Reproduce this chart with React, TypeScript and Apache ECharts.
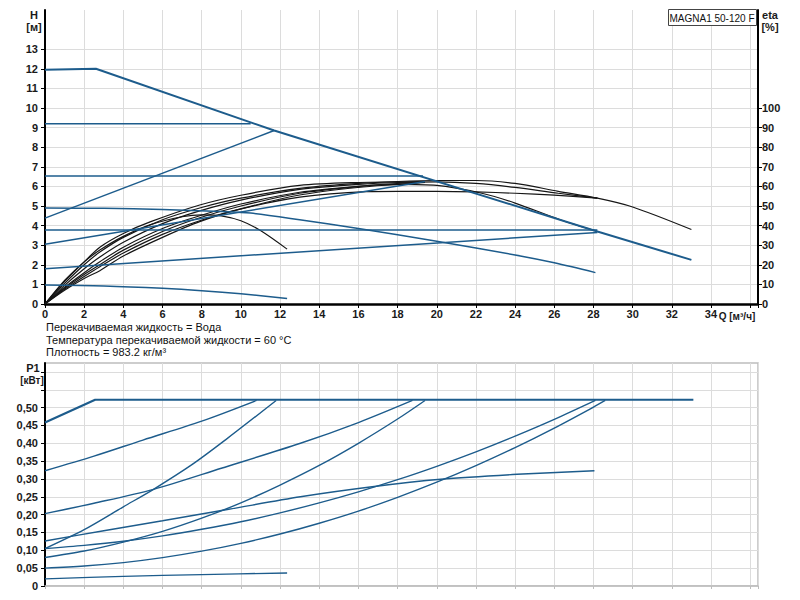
import React, { useEffect, useRef } from "react";
import * as echarts from "echarts";

// ---------- tick labels ----------
const qTickLabels = [0, 2, 4, 6, 8, 10, 12, 14, 16, 18, 20, 22, 24, 26, 28, 30, 32, 34];
const hTickLabels = [0, 1, 2, 3, 4, 5, 6, 7, 8, 9, 10, 11, 12, 13];
const etaTickLabels = [0, 10, 20, 30, 40, 50, 60, 70, 80, 90, 100];
const p1TickLabels = [0, 0.05, 0.1, 0.15, 0.2, 0.25, 0.3, 0.35, 0.4, 0.45, 0.5];
const p1TickMarks = [0, 0.05, 0.1, 0.15, 0.2, 0.25, 0.3, 0.35, 0.4, 0.45, 0.5, 0.55, 0.6];

// ---------- texts ----------
const titleText = "MAGNA1 50-120 F";
const infoLines = [
  "Перекачиваемая жидкость = Вода",
  "Температура перекачиваемой жидкости = 60 °C",
  "Плотность = 983.2 кг/м³",
];

// ---------- H curves (Q m3/h, H m) ----------
const hMax = [[0, 11.95], [2.6, 12.0], [11.7, 8.85], [28.2, 3.7], [33, 2.25]];
const hConst92 = [[0, 9.2], [10.5, 9.2]];
const hProp1 = [[0, 4.38], [11.7, 8.85]];
const hConst65 = [[0, 6.53], [19.3, 6.53]];
const hAuto = [[0, 4.9], [3, 4.88], [6, 4.82], [9, 4.72], [10.5, 4.64], [13, 4.3], [16, 3.85], [20, 3.2], [24, 2.5], [26, 2.1], [28.1, 1.6]];
const hConst38 = [[0, 3.77], [28.2, 3.77]];
const hProp2 = [[0, 3.05], [19.4, 6.25]];
const hProp3 = [[0, 1.8], [28.2, 3.65]];
const hMin = [[0, 0.97], [3, 0.92], [6, 0.8], [8, 0.68], [10, 0.52], [12.36, 0.28]];

// ---------- eta curves (Q m3/h, eta %) ----------
const eta1 = [[0, 0], [1, 10.5], [2, 20], [2.8, 26.5], [4, 34], [6, 43], [7.9, 49], [10, 54], [13, 59], [16, 61.5], [18, 62.5], [20, 63], [22, 63], [24, 61.5], [26.2, 57.5], [28.2, 54], [30, 49.5], [33, 38]];
const eta2 = [[0, 0], [1, 9.5], [2, 18], [2.8, 24], [4, 31.5], [6, 41], [7.9, 47.5], [10, 53], [13, 58.5], [16, 61], [18, 62], [20, 62.3], [22, 61.5], [24, 59.5], [26.2, 56.5], [28.2, 54]];
const eta3 = [[0, 0], [1, 7.5], [2, 14], [2.8, 19], [4, 26], [6, 35.5], [7.9, 42.5], [10, 48.5], [13, 54.5], [16.4, 57.3], [18, 57.5], [20, 57.5], [22, 57.2], [24, 56.5], [26, 55.5], [28.2, 54]];
const eta4 = [[0, 0], [1, 8.5], [2, 16], [2.8, 21.5], [4, 29], [6, 38.5], [7.9, 45], [10, 51], [13, 57], [16, 60], [18, 61], [20, 60.5], [22.3, 56.5], [24, 51.5], [26.3, 43], [28.2, 37]];
const eta5 = [[0, 0], [1, 12], [2, 21.5], [2.8, 27.5], [4, 34.5], [5.4, 40.5], [7, 44.5], [8, 45.5], [9, 45], [10, 42.5], [11, 37.5], [12.36, 28]];
const eta6 = [[0, 0], [1, 7], [2, 13], [2.8, 17], [4, 24.5], [6, 34], [7.9, 42], [10, 48.5], [13, 55.6], [16, 59.5], [18, 61], [19.4, 62]];
const eta7 = [[0, 0], [1, 8], [2, 15], [2.8, 20], [4, 27.5], [6, 37], [7.9, 44], [10, 50], [13, 56.5], [16, 60], [18, 61.5], [19.4, 62.2]];
const eta8 = [[0, 0], [1, 11.5], [2, 21.5], [2.8, 29], [4, 36], [5.4, 42], [7.9, 50.5], [10, 55.5], [13, 60.5], [16, 62], [19.4, 62.5]];

// ---------- P1 curves (Q m3/h, P1 kW) ----------
const pMax = [[0, 0.458], [2.56, 0.522], [33.1, 0.522]];
const pConst92 = [[0, 0.323], [2.5, 0.364], [5, 0.409], [8, 0.462], [10.8, 0.52]];
const pProp1 = [[0, 0.105], [2, 0.158], [4, 0.222], [5.54, 0.271], [7.5, 0.34], [9.2, 0.409], [11.8, 0.52]];
const pConst65 = [[0, 0.203], [2.5, 0.232], [5.54, 0.271], [9, 0.33], [13.04, 0.4], [16, 0.458], [18.76, 0.52]];
const pAuto = [[0, 0.126], [3, 0.155], [6, 0.183], [9.38, 0.215], [13.04, 0.25], [16.7, 0.278], [20.2, 0.299], [24.1, 0.313], [28.05, 0.323]];
const pConst38 = [[0, 0.105], [2, 0.114], [4, 0.1255], [6, 0.1405], [8, 0.159], [10, 0.18], [12, 0.205], [14, 0.233], [16, 0.264], [18, 0.298], [20, 0.3355], [22, 0.376], [24, 0.42], [26, 0.467], [28.1, 0.52]];
const pProp2 = [[0, 0.08], [2, 0.098], [4, 0.123], [6, 0.153], [8, 0.19], [10, 0.233], [12, 0.283], [14, 0.338], [16, 0.4], [18, 0.468], [19.4, 0.52]];
const pProp3 = [[0, 0.05], [2, 0.056], [4, 0.0656], [6, 0.0795], [8, 0.0976], [10, 0.1196], [12, 0.1457], [14, 0.176], [16, 0.21], [18, 0.2486], [20, 0.291], [22, 0.3375], [24, 0.388], [26, 0.4427], [28, 0.5014], [28.6, 0.52]];
const pMin = [[0, 0.02], [4, 0.027], [8, 0.032], [12.36, 0.0365]];

const BLUE = "#1d5c8c";
const BLACK = "#161616";
const GRID = "#dcdcdc";
const FONT = "Liberation Sans, Arial, sans-serif";

function blue(data: number[][], width = 1.5, smooth = false): any {
  return {
    type: "line", xAxisIndex: 0, yAxisIndex: 0, data, symbol: "none",
    smooth: smooth ? 0.3 : false,
    lineStyle: { color: BLUE, width }, silent: true, z: 3,
  };
}
function black(data: number[][]): any {
  return {
    type: "line", xAxisIndex: 0, yAxisIndex: 1, data, symbol: "none",
    smooth: 0.3,
    lineStyle: { color: BLACK, width: 1.2 }, silent: true, z: 2,
  };
}
function power(data: number[][], width = 1.4, smooth = true): any {
  return {
    type: "line", xAxisIndex: 1, yAxisIndex: 2, data, symbol: "none",
    smooth: smooth ? 0.3 : false,
    lineStyle: { color: BLUE, width }, silent: true, z: 3,
  };
}

const labelStyle = { color: "#1a1a1a", fontSize: 11, fontWeight: "bold" as const, fontFamily: FONT };

export default function App() {
  const ref = useRef<HTMLDivElement>(null);
  useEffect(() => {
    if (!ref.current) return;
    const chart = echarts.init(ref.current, undefined, { renderer: "svg" });
    const fmtP = (v: number) => (Math.abs(v) < 1e-9 ? "0" : v.toFixed(2).replace(".", ","));
    const option: any = {
      animation: false,
      backgroundColor: "#ffffff",
      grid: [
        { left: 45, right: 42, top: 10, height: 294, show: false },
        { left: 45, right: 42, top: 363, height: 223, show: true, borderColor: "#bdbdbd", borderWidth: 1.5, backgroundColor: "transparent" },
      ],
      xAxis: [
        {
          type: "value", gridIndex: 0, min: 0, max: 36.4, interval: 2,
          axisLine: { show: true, lineStyle: { color: "#000", width: 2.5 } },
          axisTick: { show: true, length: 4, lineStyle: { color: "#000" } },
          axisLabel: { ...labelStyle, margin: 4, customValues: qTickLabels, formatter: (v: number) => (v <= 34 ? String(v) : "") },
          splitLine: { show: true, lineStyle: { color: GRID, width: 1 } },
        },
        {
          type: "value", gridIndex: 1, min: 0, max: 36.4, interval: 2,
          axisLine: { show: true, lineStyle: { color: "#bdbdbd", width: 1.5 } },
          axisTick: { show: true, length: 3, lineStyle: { color: "#bdbdbd" } },
          axisLabel: { show: false },
          splitLine: { show: true, lineStyle: { color: GRID, width: 1 } },
        },
      ],
      yAxis: [
        {
          type: "value", gridIndex: 0, min: 0, max: 15, interval: 1,
          axisLine: { show: true, lineStyle: { color: "#000", width: 2 } },
          axisTick: { show: true, length: 4, customValues: hTickLabels, lineStyle: { color: "#000" } },
          axisLabel: { ...labelStyle, margin: 7, customValues: hTickLabels, formatter: (v: number) => (v <= 13 ? String(v) : "") },
          splitLine: { show: true, lineStyle: { color: GRID, width: 1 } },
        },
        {
          type: "value", gridIndex: 0, position: "right", min: 0, max: 150, interval: 10,
          axisLine: { show: true, lineStyle: { color: "#000", width: 2 } },
          axisTick: { show: true, length: 4, customValues: etaTickLabels, lineStyle: { color: "#000" } },
          axisLabel: { ...labelStyle, margin: 4, customValues: etaTickLabels, formatter: (v: number) => (v <= 100 ? String(v) : "") },
          splitLine: { show: false },
        },
        {
          type: "value", gridIndex: 1, min: 0, max: 0.625, interval: 0.05,
          axisLine: { show: true, lineStyle: { color: "#000", width: 2 } },
          axisTick: { show: true, length: 4, customValues: p1TickMarks, lineStyle: { color: "#000" } },
          axisLabel: { ...labelStyle, margin: 7, customValues: p1TickLabels, formatter: (v: number) => (v <= 0.5001 ? fmtP(v) : "") },
          splitLine: { show: true, lineStyle: { color: GRID, width: 1 } },
        },
      ],
      series: [
        black(eta1), black(eta2), black(eta3), black(eta4), black(eta5), black(eta6), black(eta7), black(eta8),
        blue(hMax, 2), blue(hConst92), blue(hProp1), blue(hConst65), blue(hAuto, 1.5, true),
        blue(hConst38), blue(hProp2), blue(hProp3), blue(hMin, 1.5, true),
        power(pMax, 2.2, false), power(pConst92), power(pProp1), power(pConst65), power(pAuto),
        power(pConst38), power(pProp2), power(pProp3), power(pMin),
      ],
      graphic: [
        { type: "text", x: 34, y: 15, style: { text: "H", font: `bold 11px ${FONT}`, fill: "#1a1a1a", textAlign: "center", textVerticalAlign: "middle" } },
        { type: "text", x: 34, y: 27, style: { text: "[м]", font: `bold 11px ${FONT}`, fill: "#1a1a1a", textAlign: "center", textVerticalAlign: "middle" } },
        { type: "text", x: 770, y: 15, style: { text: "eta", font: `bold 11px ${FONT}`, fill: "#1a1a1a", textAlign: "center", textVerticalAlign: "middle" } },
        { type: "text", x: 770, y: 27, style: { text: "[%]", font: `bold 11px ${FONT}`, fill: "#1a1a1a", textAlign: "center", textVerticalAlign: "middle" } },
        { type: "rect", shape: { x: 668.5, y: 9.5, width: 88, height: 16 }, style: { fill: "#ffffff", stroke: "#444", lineWidth: 1 }, z: 10 },
        { type: "text", x: 712, y: 18, style: { text: titleText, font: `10px ${FONT}`, fill: "#111", textAlign: "center", textVerticalAlign: "middle" }, z: 11 },
        { type: "text", x: 737, y: 316, style: { text: "Q [м³/ч]", font: `bold 10px ${FONT}`, fill: "#1a1a1a", textAlign: "center", textVerticalAlign: "middle" } },
        { type: "text", x: 46, y: 327, style: { text: infoLines[0], font: `11px ${FONT}`, fill: "#111", textAlign: "left", textVerticalAlign: "middle" } },
        { type: "text", x: 46, y: 340, style: { text: infoLines[1], font: `11px ${FONT}`, fill: "#111", textAlign: "left", textVerticalAlign: "middle" } },
        { type: "text", x: 46, y: 352, style: { text: infoLines[2], font: `11px ${FONT}`, fill: "#111", textAlign: "left", textVerticalAlign: "middle" } },
        { type: "text", x: 33, y: 368, style: { text: "P1", font: `bold 11px ${FONT}`, fill: "#1a1a1a", textAlign: "center", textVerticalAlign: "middle" } },
        { type: "text", x: 32, y: 380, style: { text: "[кВт]", font: `bold 10px ${FONT}`, fill: "#1a1a1a", textAlign: "center", textVerticalAlign: "middle" } },
      ],
    };
    chart.setOption(option);
    return () => chart.dispose();
  }, []);
  return <div ref={ref} style={{ position: "fixed", left: 0, top: 0, width: 800, height: 600, background: "#fff" }} />;
}
